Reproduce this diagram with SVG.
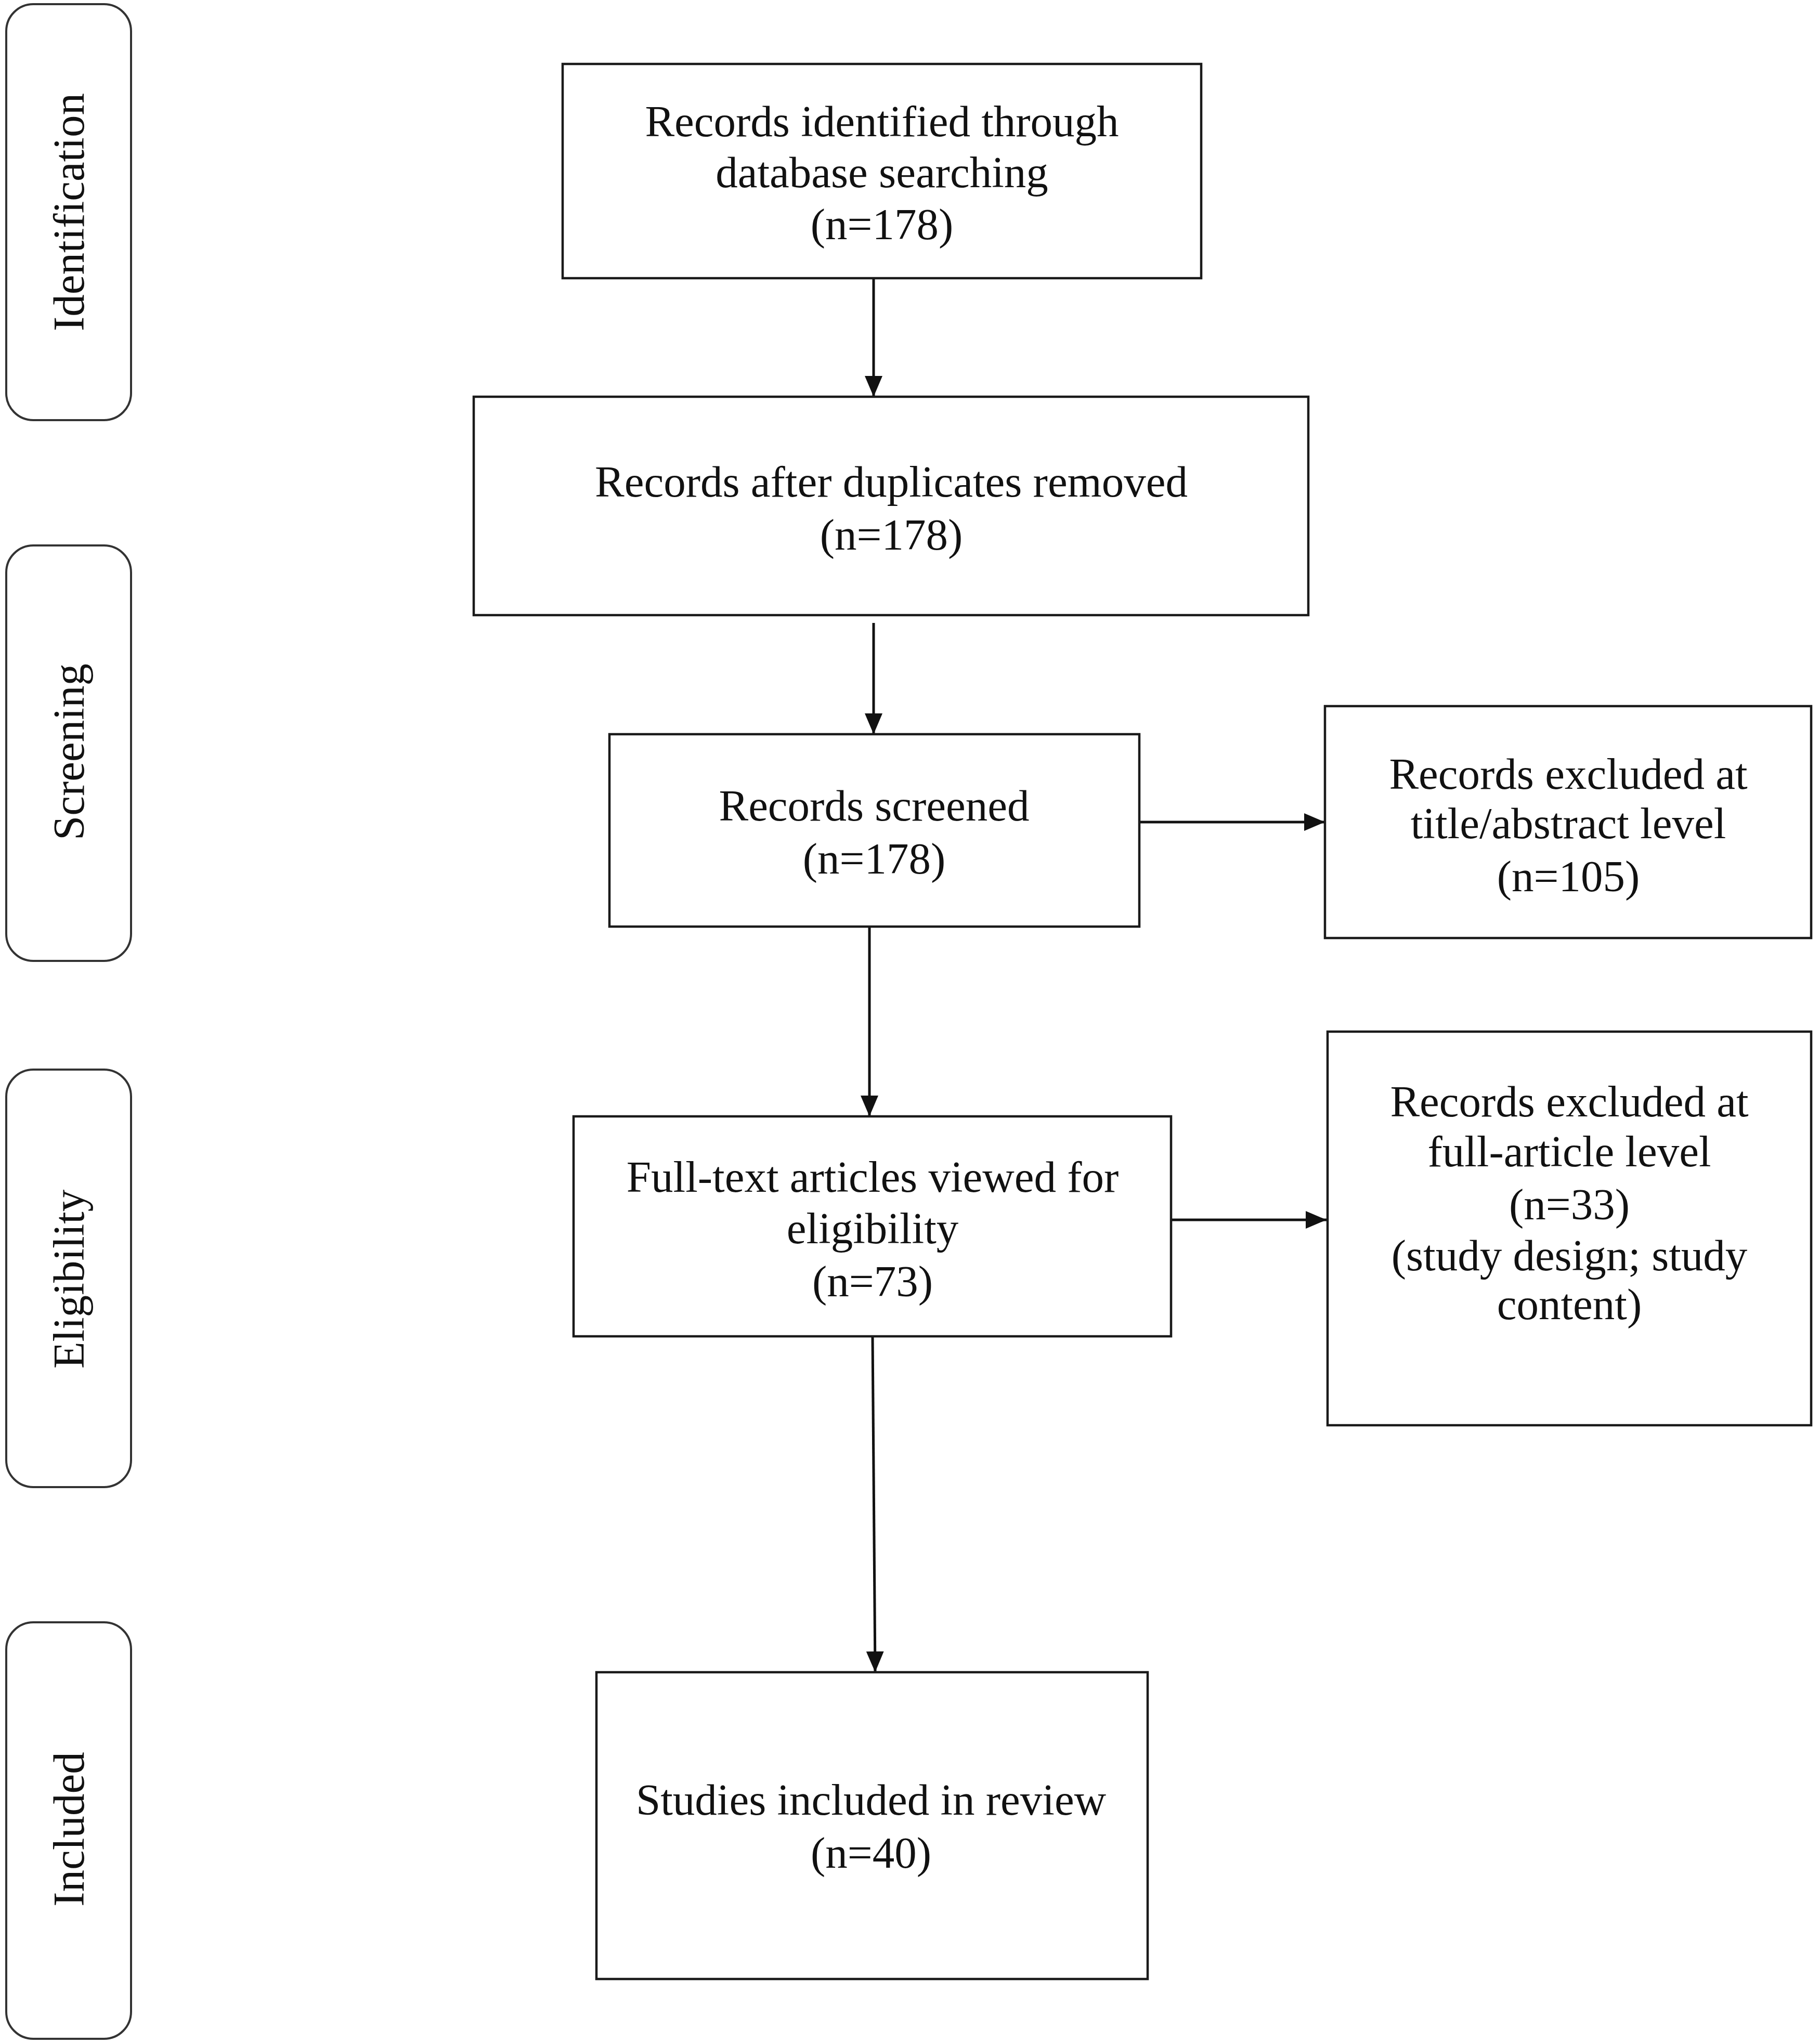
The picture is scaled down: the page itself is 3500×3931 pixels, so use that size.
<svg xmlns="http://www.w3.org/2000/svg" width="3500" height="3931" viewBox="0 0 3500 3931">
<style>
.box{fill:#fff;stroke:#1a1a1a;stroke-width:4.5}
.stage{fill:#fff;stroke:#333;stroke-width:4}
.t{font-family:"Liberation Serif","Times New Roman",serif;font-size:85px;fill:#111;text-anchor:middle}
.c{stroke:#111;stroke-width:5;fill:none;marker-end:url(#ah)}
</style>
<defs>
<marker id="ah" markerUnits="userSpaceOnUse" markerWidth="40" markerHeight="34" refX="40" refY="17" orient="auto">
<path d="M0,0 L40,17 L0,34 z" fill="#111"/>
</marker>
</defs>
<rect width="3500" height="3931" fill="#fff"/>
<g id="stage-identification">
<rect class="stage" x="12" y="8" width="240" height="800" rx="52" ry="52"/>
<text class="t" transform="translate(161,408) rotate(-90)">Identification</text>
</g>
<g id="stage-screening">
<rect class="stage" x="12" y="1049" width="240" height="799" rx="52" ry="52"/>
<text class="t" transform="translate(161,1446) rotate(-90)">Screening</text>
</g>
<g id="stage-eligibility">
<rect class="stage" x="12" y="2057" width="240" height="803" rx="52" ry="52"/>
<text class="t" transform="translate(161,2460) rotate(-90)">Eligibility</text>
</g>
<g id="stage-included">
<rect class="stage" x="12" y="3120" width="240" height="801" rx="52" ry="52"/>
<text class="t" transform="translate(161,3518) rotate(-90)">Included</text>
</g>
<g id="connectors">
<line class="c" x1="1680" y1="535" x2="1680" y2="763"/>
<line class="c" x1="1680" y1="1198" x2="1680" y2="1412"/>
<line class="c" x1="2191" y1="1581" x2="2548" y2="1581"/>
<line class="c" x1="1672" y1="1782" x2="1672" y2="2147"/>
<line class="c" x1="2252" y1="2346" x2="2551" y2="2346"/>
<line class="c" x1="1678" y1="2570" x2="1683" y2="3216"/>
</g>
<g id="n1">
<rect class="box" x="1082" y="123" width="1228" height="412"/>
<text class="t" x="1696" y="262">Records identified through</text>
<text class="t" x="1696" y="360">database searching</text>
<text class="t" x="1696" y="460">(n=178)</text>
</g>
<g id="n2">
<rect class="box" x="911" y="763" width="1605" height="420"/>
<text class="t" x="1714" y="955">Records after duplicates removed</text>
<text class="t" x="1714" y="1057">(n=178)</text>
</g>
<g id="n3">
<rect class="box" x="1172" y="1412" width="1019" height="370"/>
<text class="t" x="1681" y="1578">Records screened</text>
<text class="t" x="1681" y="1680">(n=178)</text>
</g>
<g id="n4">
<rect class="box" x="2548" y="1358" width="935" height="446"/>
<text class="t" x="3016" y="1517">Records excluded at</text>
<text class="t" x="3016" y="1612">title/abstract level</text>
<text class="t" x="3016" y="1714">(n=105)</text>
</g>
<g id="n5">
<rect class="box" x="1103" y="2147" width="1149" height="423"/>
<text class="t" x="1678" y="2292">Full-text articles viewed for</text>
<text class="t" x="1678" y="2391">eligibility</text>
<text class="t" x="1678" y="2493">(n=73)</text>
</g>
<g id="n6">
<rect class="box" x="2553" y="1984" width="930" height="757"/>
<text class="t" x="3018" y="2147">Records excluded at</text>
<text class="t" x="3018" y="2243">full-article level</text>
<text class="t" x="3018" y="2345">(n=33)</text>
<text class="t" x="3018" y="2443">(study design; study</text>
<text class="t" x="3018" y="2537">content)</text>
</g>
<g id="n7">
<rect class="box" x="1147" y="3216" width="1060" height="590"/>
<text class="t" x="1675" y="3490">Studies included in review</text>
<text class="t" x="1675" y="3592">(n=40)</text>
</g>
</svg>
